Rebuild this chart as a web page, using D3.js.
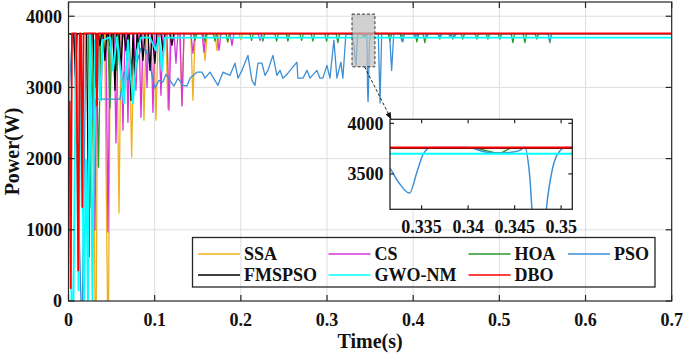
<!DOCTYPE html>
<html><head><meta charset="utf-8">
<script src="https://cdn.jsdelivr.net/npm/d3@7"></script>
<style>
html,body{margin:0;padding:0;background:#fff;}
svg{display:block;}
</style></head><body>
<svg id="chart" width="685" height="356"></svg>
<script>
// ---------- data ----------
const seriesNames = ["SSA","CS","HOA","PSO","FMSPSO","GWO-NM","DBO"];
const seriesColors = ["#EDB120","#D834D8","#2a9a2a","#3d8fd6","#000000","#00FFFF","#FF0000"];
const xTicks = [0,0.1,0.2,0.3,0.4,0.5,0.6,0.7];
const xTickLabels = ["0","0.1","0.2","0.3","0.4","0.5","0.6","0.7"];
const yTicks = [0,1000,2000,3000,4000];
const yTickLabels = ["0","1000","2000","3000","4000"];
const insetXTicks = [0.335,0.34,0.345,0.35];
const insetXTickLabels = ["0.335","0.34","0.345","0.35"];
const insetYTicks = [3500,4000];
const insetYTickLabels = ["3500","4000"];
const zoomWindow = [0.329,0.3556,3290,4030];   // t0,t1,P0,P1 of zoom box

const SSA = [[0,3755],[0.0285,3755],[0.0307,0],[0.0322,0],[0.034,3755],[0.042,3755],[0.0452,0],[0.0465,0],[0.0485,3755],[0.056,3755],[0.0586,1235],[0.061,3755],[0.0705,3755],[0.0733,2020],[0.0758,3755],[0.085,3755],[0.0876,2540],[0.090,3755],[0.099,3755],[0.1015,2540],[0.104,3755],[0.113,3755],[0.1154,2695],[0.118,3755],[0.129,3755],[0.1317,2750],[0.134,3755],[0.142,3755],[0.1444,2820],[0.147,3755],[0.156,3755],[0.1584,3380],[0.161,3755],[0.170,3755],[0.1723,3520],[0.175,3755],[0.183,3755],[0.185,3635],[0.187,3755],[0.198,3755],[0.200,3670],[0.202,3755],[0.253,3755],[0.255,3690],[0.257,3755],[0.7,3755]];

const CS = [[0,3755],[0.0285,3755],[0.0307,995],[0.033,3755],[0.0357,3755],[0.0377,2820],[0.040,3755],[0.0435,3755],[0.0458,970],[0.048,3755],[0.053,3755],[0.0551,2220],[0.0575,3755],[0.061,3755],[0.0632,2400],[0.0655,3755],[0.067,3755],[0.0690,2510],[0.071,3755],[0.076,3755],[0.0783,2960],[0.0805,3755],[0.082,3755],[0.0841,2580],[0.0865,3755],[0.089,3755],[0.0911,3000],[0.093,3755],[0.0958,3755],[0.0980,2650],[0.1002,3755],[0.105,3755],[0.1073,2890],[0.1095,3755],[0.1143,3755],[0.1166,2680],[0.119,3755],[0.1225,3755],[0.1247,3340],[0.127,3755],[0.1295,3755],[0.1317,2740],[0.134,3755],[0.142,3755],[0.1444,3480],[0.1468,3755],[0.155,3755],[0.1572,3495],[0.1595,3755],[0.1723,3755],[0.1746,3520],[0.177,3755],[0.1875,3755],[0.1897,3590],[0.192,3755],[0.220,3755],[0.2222,3660],[0.2245,3755],[0.7,3755]];

const HOA = [[0,3755],[0.023,3755],[0.0261,1320],[0.029,3755],[0.032,3755],[0.0348,1880],[0.0375,3755],[0.0455,3755],[0.0481,2710],[0.0505,3755],[0.054,3755],[0.0563,3240],[0.0585,3755],[0.0655,3755],[0.0679,3380],[0.070,3755],[0.0795,3755],[0.0818,3590],[0.084,3755],
[0.1448,3755],[0.1468,3660],[0.1488,3755],[0.1564,3755],[0.1584,3650],[0.1604,3755],[0.168,3755],[0.170,3650],[0.172,3755],[0.1827,3755],[0.1847,3640],[0.1867,3755],[0.2105,3755],[0.2125,3660],[0.2145,3755],[0.2236,3755],[0.2256,3650],[0.2276,3755],[0.2395,3755],[0.2415,3650],[0.2435,3755],[0.2526,3755],[0.2546,3650],[0.2566,3755],[0.2685,3755],[0.2705,3660],[0.2725,3755],[0.2816,3755],[0.2836,3650],[0.2856,3755],[0.2975,3755],[0.2995,3650],[0.3015,3755],[0.3106,3755],[0.3126,3630],[0.3146,3755],[0.3405,3755],[0.3434,3705],[0.3447,3755],[0.371,3755],[0.373,3650],[0.375,3755],[0.3849,3755],[0.3869,3650],[0.3889,3755],[0.4023,3755],[0.4043,3640],[0.4063,3755],[0.4115,3755],[0.4135,3630],[0.4155,3755],[0.4289,3755],[0.4309,3680],[0.4329,3755],[0.444,3755],[0.446,3680],[0.448,3755],[0.4556,3755],[0.4576,3680],[0.4596,3755],[0.4719,3755],[0.4739,3680],[0.4759,3755],[0.4847,3755],[0.4867,3680],[0.4887,3755],[0.4986,3755],[0.5006,3680],[0.5026,3755],[0.5137,3755],[0.5157,3630],[0.5177,3755],[0.5276,3755],[0.5296,3630],[0.5316,3755],[0.5415,3755],[0.5435,3680],[0.5455,3755],[0.5566,3755],[0.5586,3630],[0.5606,3755],[0.7,3755]];

const PSO = [[0,2800],[0.0046,3750],[0.0064,3750],[0.0145,0],[0.0162,0],[0.0203,3750],[0.0238,3750],[0.0284,2540],[0.0319,2835],[0.0597,2835],[0.0644,3215],[0.0690,3100],[0.0748,3450],[0.0795,3355],[0.0841,3550],[0.0899,3525],[0.0945,3310],[0.1003,2990],[0.1050,3100],[0.1096,3075],[0.1131,3185],[0.1177,3100],[0.1224,3020],[0.1270,3130],[0.1328,3030],[0.1375,3020],[0.1410,3130],[0.1491,3215],[0.1549,3215],[0.1584,3130],[0.1642,3215],[0.1676,3145],[0.1734,3030],[0.1792,3215],[0.1874,3170],[0.1932,3340],[0.1967,3130],[0.2013,3240],[0.2082,3450],[0.2129,3100],[0.2164,3030],[0.2198,3340],[0.2245,3340],[0.2280,3170],[0.2314,3240],[0.2372,3450],[0.2419,3170],[0.2454,3240],[0.2488,3130],[0.2546,3200],[0.2651,3355],[0.2662,3130],[0.2721,3130],[0.2767,3240],[0.2802,3130],[0.2883,3240],[0.2918,3130],[0.2952,3130],[0.2999,3310],[0.3034,3130],[0.3080,3665],[0.3115,3130],[0.3161,3355],[0.3184,3130],[0.3219,3750],[0.3290,3750],[0.3316,3556],[0.3325,3420],[0.3337,3310],[0.3345,3520],[0.3352,3700],[0.3360,3760],[0.3400,3760],[0.3415,3725],[0.3432,3705],[0.3445,3712],[0.3455,3730],[0.3461,3762],[0.3466,3500],[0.3470,3000],[0.3476,2800],[0.3482,3000],[0.3486,3300],[0.3492,3600],[0.3498,3720],[0.3505,3760],[0.3595,3760],[0.3615,2780],[0.3635,3760],[0.3725,3760],[0.375,3240],[0.3775,3760],[0.386,3760],[0.388,3640],[0.390,3755],[0.400,3755],[0.402,3700],[0.404,3755],[0.4055,3715],[0.407,3755],[0.4145,3755],[0.4159,3710],[0.4175,3755],[0.429,3755],[0.431,3710],[0.433,3755],[0.441,3755],[0.4426,3715],[0.4445,3755],[0.4468,3755],[0.4484,3715],[0.450,3755],[0.5565,3755],[0.5586,3640],[0.5607,3755],[0.7,3755]];

const FMSPSO = [[0,3750],[0.006,3750],[0.0081,3150],[0.010,3755],[0.021,3755],[0.0238,620],[0.026,3755],[0.0285,3755],[0.0307,3000],[0.033,3755],[0.0345,3755],[0.0365,3590],[0.0385,3755],[0.040,3755],[0.0423,3380],[0.0445,3755],[0.046,3755],[0.0481,3590],[0.050,3755],[0.0517,3755],[0.0539,2960],[0.056,3755],[0.0587,3755],[0.0609,3240],[0.063,3755],[0.0645,3755],[0.0667,3520],[0.069,3755],[0.0703,3755],[0.0725,2820],[0.0748,3755],[0.0771,3100],[0.0795,3755],[0.0818,3590],[0.084,3755],[0.0864,3380],[0.0888,3755],[0.0923,3755],[0.0945,3240],[0.0968,3755],[0.1003,3340],[0.1025,3755],[0.1073,3755],[0.1096,3520],[0.112,3755],[0.1177,3755],[0.1200,3590],[0.1222,3755],[0.7,3755]];

const GWONM = [[0,3750],[0.0035,0],[0.0058,0],[0.0087,3750],[0.0116,150],[0.0145,3750],[0.0180,0],[0.0203,1980],[0.0226,0],[0.0249,3750],[0.0278,0],[0.0307,3665],[0.0342,3665],[0.0365,2820],[0.0400,3665],[0.0481,3705],[0.0516,3240],[0.0563,3705],[0.0644,2780],[0.0690,3665],[0.0748,2780],[0.0795,3520],[0.0841,3700],[0.0945,3700],[0.1015,3520],[0.1050,3700],[0.1085,3240],[0.1119,3700],[0.7,3700]];

const DBO = [[0,2800],[0.0012,2800],[0.0026,180],[0.004,3760],[0.009,3760],[0.0113,430],[0.013,3760],[0.0145,3760],[0.016,1320],[0.0175,3760],[0.0318,3760],[0.033,2750],[0.0342,3760],[0.7,3760]];

const seriesData = [SSA, CS, HOA, PSO, FMSPSO, GWONM, DBO];
const seriesWidths = [1.3,1.3,1.3,1.3,1.3,1.9,1.8];

// ---------- layout ----------
const FONT = '"Liberation Serif"';
const M = {l:68.5, t:2, r:671.7, b:301};
const I = {l:390, t:119.3, r:572.3, b:209.3};
const frameColor = "#262626";
const svg = d3.select("#chart");
svg.append("rect").attr("width",685).attr("height",356).attr("fill","#fff");

function txt(sel, size){
  return sel.append("text").style("font-family",FONT).attr("font-weight","bold")
    .attr("font-size",size).attr("fill","#111");
}

const x = d3.scaleLinear().domain([0,0.7]).range([M.l,M.r]);
const y = d3.scaleLinear().domain([0,4200]).range([M.b,M.t]);

const defs = svg.append("defs");
defs.append("clipPath").attr("id","clipMain").append("rect")
  .attr("x",M.l).attr("y",M.t).attr("width",M.r-M.l).attr("height",M.b-M.t);
defs.append("clipPath").attr("id","clipInset").append("rect")
  .attr("x",I.l).attr("y",I.t).attr("width",I.r-I.l).attr("height",I.b-I.t);
const mk = defs.append("marker").attr("id","arrow").attr("viewBox","0 0 10 10")
  .attr("refX",9).attr("refY",5).attr("markerWidth",7).attr("markerHeight",7)
  .attr("orient","auto-start-reverse").attr("markerUnits","userSpaceOnUse");
mk.append("path").attr("d","M0,1 L10,5 L0,9 z").attr("fill","#111");

// grid
const grid = svg.append("g");
xTicks.filter(t=>t>0 && t<0.7).forEach(t=>{
  grid.append("line").attr("x1",x(t)).attr("x2",x(t)).attr("y1",M.t).attr("y2",M.b)
    .attr("stroke","#dedede").attr("stroke-width",1);
});
yTicks.filter(v=>v>0).forEach(v=>{
  grid.append("line").attr("x1",M.l).attr("x2",M.r).attr("y1",y(v)).attr("y2",y(v))
    .attr("stroke","#dedede").attr("stroke-width",1);
});

// series
const lineMain = d3.line().x(d=>x(d[0])).y(d=>y(d[1]));
const gMain = svg.append("g").attr("clip-path","url(#clipMain)");
seriesData.forEach((s,i)=>{
  gMain.append("path").attr("d",lineMain(s)).attr("fill","none")
    .attr("stroke",seriesColors[i]).attr("stroke-width",seriesWidths[i])
    .attr("stroke-linejoin","round");
});

// frame + ticks
svg.append("rect").attr("x",M.l).attr("y",M.t).attr("width",M.r-M.l).attr("height",M.b-M.t)
  .attr("fill","none").attr("stroke",frameColor).attr("stroke-width",1.2);
const tk = svg.append("g").attr("stroke",frameColor).attr("stroke-width",1.2);
xTicks.forEach(t=>{
  tk.append("line").attr("x1",x(t)).attr("x2",x(t)).attr("y1",M.b).attr("y2",M.b-6);
  tk.append("line").attr("x1",x(t)).attr("x2",x(t)).attr("y1",M.t).attr("y2",M.t+6);
});
yTicks.forEach(v=>{
  tk.append("line").attr("x1",M.l).attr("x2",M.l+6).attr("y1",y(v)).attr("y2",y(v));
  tk.append("line").attr("x1",M.r).attr("x2",M.r-6).attr("y1",y(v)).attr("y2",y(v));
});
const lab = svg.append("g");
xTicks.forEach((t,i)=>{
  txt(lab,18).attr("x",x(t)).attr("y",326).attr("text-anchor","middle").text(xTickLabels[i]);
});
yTicks.forEach((v,i)=>{
  txt(lab,18).attr("x",62).attr("y",y(v)+6.3).attr("text-anchor","end").text(yTickLabels[i]);
});
txt(svg,20).attr("x",(M.l+M.r)/2).attr("y",348).attr("text-anchor","middle").text("Time(s)");
txt(svg,20).attr("transform",`translate(19,${(M.t+M.b)/2}) rotate(-90)`)
  .attr("text-anchor","middle").text("Power(W)");

// zoom box + arrow
const zx0 = x(zoomWindow[0]), zx1 = x(zoomWindow[1]);
const zy0 = y(zoomWindow[3]), zy1 = y(zoomWindow[2]);
svg.append("rect").attr("x",zx0).attr("y",zy0).attr("width",zx1-zx0).attr("height",zy1-zy0)
  .attr("fill","#bdbdbd").attr("fill-opacity",0.7)
  .attr("stroke","#333").attr("stroke-width",1).attr("stroke-dasharray","3,2");
svg.append("line").attr("x1",zx0+(zx1-zx0)*0.55).attr("y1",zy1).attr("x2",I.l+1).attr("y2",I.t-0.5)
  .attr("stroke","#222").attr("stroke-width",1).attr("stroke-dasharray","3,2")
  .attr("marker-end","url(#arrow)");

// inset
const xi = d3.scaleLinear().domain([0.3316,0.3512]).range([I.l,I.r]);
const yi = d3.scaleLinear().domain([3150,4040]).range([I.b,I.t]);
svg.append("rect").attr("x",I.l).attr("y",I.t).attr("width",I.r-I.l).attr("height",I.b-I.t).attr("fill","#fff");
const lineInset = d3.line().x(d=>xi(d[0])).y(d=>yi(d[1])).curve(d3.curveMonotoneX);
const gIn = svg.append("g").attr("clip-path","url(#clipInset)");
seriesData.forEach((s,i)=>{
  gIn.append("path").attr("d",lineInset(s)).attr("fill","none")
    .attr("stroke",seriesColors[i]).attr("stroke-width",seriesWidths[i]+0.2);
});
svg.append("rect").attr("x",I.l).attr("y",I.t).attr("width",I.r-I.l).attr("height",I.b-I.t)
  .attr("fill","none").attr("stroke",frameColor).attr("stroke-width",1.3);
const tki = svg.append("g").attr("stroke",frameColor).attr("stroke-width",1.2);
insetXTicks.forEach((t,i)=>{
  tki.append("line").attr("x1",xi(t)).attr("x2",xi(t)).attr("y1",I.b).attr("y2",I.b-4);
  tki.append("line").attr("x1",xi(t)).attr("x2",xi(t)).attr("y1",I.t).attr("y2",I.t+4);
  txt(lab,18).attr("x",xi(t)).attr("y",232.5).attr("text-anchor","middle").text(insetXTickLabels[i]);
});
insetYTicks.forEach((v,i)=>{
  tki.append("line").attr("x1",I.l).attr("x2",I.l+4).attr("y1",yi(v)).attr("y2",yi(v));
  tki.append("line").attr("x1",I.r).attr("x2",I.r-4).attr("y1",yi(v)).attr("y2",yi(v));
  txt(lab,18).attr("x",383.5).attr("y",yi(v)+6.3).attr("text-anchor","end").text(insetYTickLabels[i]);
});

// legend
const L = {x:192.5, y:237.5, w:462.5, h:49.5};
svg.append("rect").attr("x",L.x).attr("y",L.y).attr("width",L.w).attr("height",L.h)
  .attr("fill","none").attr("stroke",frameColor).attr("stroke-width",1.3);
const colX = [198,328.5,468.5,568];
const rowY = [254,275];
seriesNames.forEach((n,i)=>{
  const c = i%4, r = Math.floor(i/4);
  svg.append("line").attr("x1",colX[c]).attr("x2",colX[c]+42).attr("y1",rowY[r]).attr("y2",rowY[r])
    .attr("stroke",seriesColors[i]).attr("stroke-width",1.5);
  txt(svg,18).attr("x",colX[c]+46).attr("y",rowY[r]+6.3).text(n);
});
</script>
</body></html>
